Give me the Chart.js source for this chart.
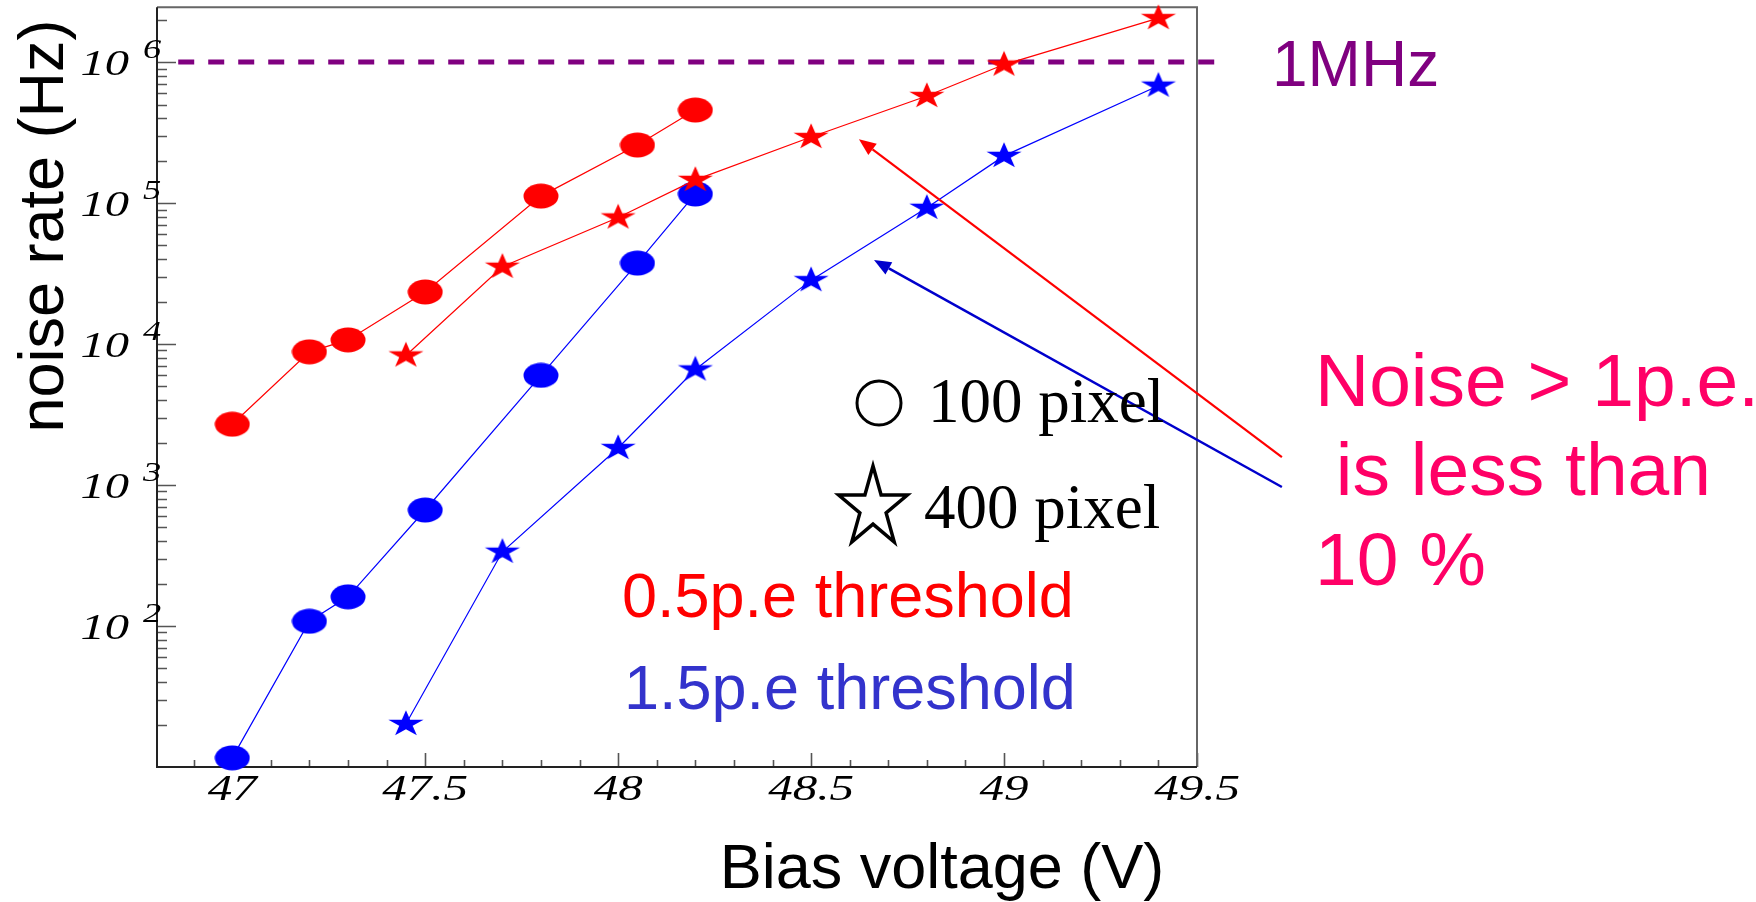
<!DOCTYPE html>
<html>
<head>
<meta charset="utf-8">
<script src="https://cdn.jsdelivr.net/npm/chart.js@4/dist/chart.umd.min.js"></script>
<style>
  html, body { margin: 0; padding: 0; background: #fff; }
</style>
</head>
<body>
<canvas id="noiseChart" width="1756" height="902"></canvas>
<script>
// bias voltage (V) and noise rate (Hz)
const bias100 = [47.0, 47.2, 47.3, 47.5, 47.8, 48.05, 48.2];
const rate100Half = [2700, 8800, 10700, 23400, 112000, 258000, 457000];   // 0.5 p.e. threshold
const rate100OneHalf = [11.6, 108, 161, 665, 6000, 37500, 116000];       // 1.5 p.e. threshold

const bias400 = [47.45, 47.7, 48.0, 48.2, 48.5, 48.8, 49.0, 49.4];
const rate400Half = [8300, 35300, 79000, 146000, 294000, 574000, 960000, 2050000];
const rate400OneHalf = [20.2, 336, 1830, 6600, 28400, 92500, 216000, 680000];

// 1 MHz reference line
const limitBias = [46.86, 49.58];
const limitRate = [1e6, 1e6];

// arrows: [tail, tip] in (V, Hz)
const arrowRed = [[49.72, 1580], [48.624, 284000]];
const arrowBlue = [[49.72, 968], [48.663, 39400]];

const xTickValues = [47, 47.5, 48, 48.5, 49, 49.5];
const xTickLabels = ['47', '47.5', '48', '48.5', '49', '49.5'];
const yDecades = [2, 3, 4, 5, 6];

const RED = '#ff0000';
const BLUE = '#0000ff';

function pts(xs, ys) {
  return xs.map((x, i) => ({ x: x, y: ys[i] }));
}

// filled ellipse marker
function makeDot(color) {
  const c = document.createElement('canvas');
  c.width = 36; c.height = 26;
  const g = c.getContext('2d');
  g.fillStyle = color;
  g.beginPath();
  g.ellipse(18, 13, 17.5, 12.5, 0, 0, Math.PI * 2);
  g.fill();
  return c;
}

function starPath(g, cx, cy, R, sx) {
  const r = R * 0.382;
  g.beginPath();
  for (let i = 0; i < 10; i++) {
    const rad = i % 2 === 0 ? R : r;
    const a = -Math.PI / 2 + i * Math.PI / 5;
    const px = cx + Math.cos(a) * rad * sx;
    const py = cy + Math.sin(a) * rad;
    if (i === 0) g.moveTo(px, py); else g.lineTo(px, py);
  }
  g.closePath();
}

// filled star marker, a bit wider than tall
function makeStar(color) {
  const c = document.createElement('canvas');
  c.width = 38; c.height = 30;
  const g = c.getContext('2d');
  g.fillStyle = color;
  starPath(g, 19, 15, 13.8, 1.34);
  g.fill();
  return c;
}

function stretchText(ctx, text, x, y, align, sx) {
  ctx.save();
  ctx.translate(x, y);
  ctx.scale(sx, 1);
  ctx.textAlign = align;
  ctx.fillText(text, 0, 0);
  ctx.restore();
}

const rootFrame = {
  id: 'rootFrame',
  beforeDatasetsDraw(chart) {
    const { ctx, chartArea: a, scales: { x, y } } = chart;
    ctx.save();
    // ticks pointing into the frame
    ctx.strokeStyle = '#555';
    ctx.lineWidth = 1.6;
    ctx.beginPath();
    for (let d = 1; d <= 6; d++) {
      for (let m = 1; m <= 9; m++) {
        const v = m * Math.pow(10, d);
        if (v <= y.min || v > y.max) continue;
        const py = Math.round(y.getPixelForValue(v)) + 0.5;
        const len = m === 1 ? 19 : 10;
        ctx.moveTo(a.left, py);
        ctx.lineTo(a.left + len, py);
      }
    }
    for (let t = 469; t <= 495; t++) {
      const px = Math.round(x.getPixelForValue(t / 10)) + 0.5;
      if (px <= a.left + 1) continue;
      const len = t % 5 === 0 ? 14 : 7;
      ctx.moveTo(px, a.bottom);
      ctx.lineTo(px, a.bottom - len);
    }
    ctx.stroke();

    // frame
    ctx.lineWidth = 2;
    ctx.strokeStyle = '#666';
    ctx.beginPath();
    ctx.moveTo(a.left, a.top);
    ctx.lineTo(a.right, a.top);
    ctx.lineTo(a.right, a.bottom);
    ctx.stroke();
    ctx.strokeStyle = '#222';
    ctx.beginPath();
    ctx.moveTo(a.left, a.top);
    ctx.lineTo(a.left, a.bottom);
    ctx.lineTo(a.right, a.bottom);
    ctx.stroke();

    // tick labels
    ctx.fillStyle = '#000';
    ctx.textBaseline = 'alphabetic';
    xTickValues.forEach((v, i) => {
      ctx.font = 'italic 35px "Liberation Serif"';
      stretchText(ctx, xTickLabels[i], x.getPixelForValue(v), 800, 'center', 1.4);
    });
    yDecades.forEach(e => {
      const py = y.getPixelForValue(Math.pow(10, e));
      ctx.font = 'italic 36px "Liberation Serif"';
      stretchText(ctx, '10', 129, py + 13, 'right', 1.35);
      ctx.font = 'italic 27px "Liberation Serif"';
      stretchText(ctx, String(e), 143, py - 4, 'left', 1.35);
    });
    ctx.restore();
  },
  afterDatasetsDraw(chart) {
    const { ctx, scales: { x, y } } = chart;
    const arrow = (pair, color, width) => {
      const x0 = x.getPixelForValue(pair[0][0]), y0 = y.getPixelForValue(pair[0][1]);
      const x1 = x.getPixelForValue(pair[1][0]), y1 = y.getPixelForValue(pair[1][1]);
      const ang = Math.atan2(y1 - y0, x1 - x0);
      const hl = 17, hw = 7;
      const bx = x1 - Math.cos(ang) * hl, by = y1 - Math.sin(ang) * hl;
      ctx.save();
      ctx.strokeStyle = color;
      ctx.fillStyle = color;
      ctx.lineWidth = width;
      ctx.beginPath();
      ctx.moveTo(x0, y0);
      ctx.lineTo(bx, by);
      ctx.stroke();
      ctx.beginPath();
      ctx.moveTo(x1, y1);
      ctx.lineTo(bx + Math.sin(ang) * hw, by - Math.cos(ang) * hw);
      ctx.lineTo(bx - Math.sin(ang) * hw, by + Math.cos(ang) * hw);
      ctx.closePath();
      ctx.fill();
      ctx.restore();
    };
    arrow(arrowRed, '#ff0000', 2.2);
    arrow(arrowBlue, '#0000cc', 2.5);
  },
  afterDraw(chart) {
    const { ctx } = chart;
    ctx.save();
    ctx.textBaseline = 'alphabetic';
    ctx.textAlign = 'left';

    // axis titles
    ctx.fillStyle = '#000';
    ctx.font = '63px "Liberation Sans"';
    ctx.textAlign = 'center';
    ctx.fillText('Bias voltage (V)', 942, 888);
    ctx.save();
    ctx.translate(63, 226);
    ctx.rotate(-Math.PI / 2);
    ctx.fillText('noise rate (Hz)', 0, 0);
    ctx.restore();
    ctx.textAlign = 'left';

    // marker key
    ctx.strokeStyle = '#000';
    ctx.lineWidth = 3;
    ctx.beginPath();
    ctx.arc(879, 403, 22, 0, Math.PI * 2);
    ctx.stroke();
    ctx.lineWidth = 3.5;
    ctx.lineJoin = 'miter';
    starPath(ctx, 873, 508, 42, 0.86);
    ctx.stroke();
    ctx.font = '63px "Liberation Serif"';
    ctx.fillText('100 pixel', 928, 422);
    ctx.fillText('400 pixel', 924, 528);

    // threshold labels
    ctx.font = '63px "Liberation Sans"';
    ctx.fillStyle = '#ff0000';
    ctx.fillText('0.5p.e threshold', 622, 617);
    ctx.fillStyle = '#3333cc';
    ctx.fillText('1.5p.e threshold', 624, 709);

    ctx.fillStyle = '#800080';
    ctx.font = '64px "Liberation Sans"';
    ctx.fillText('1MHz', 1272, 86);

    ctx.fillStyle = '#ff0066';
    ctx.font = '75px "Liberation Sans"';
    ctx.fillText('Noise > 1p.e.', 1315, 406);
    ctx.fillText(' is less than', 1315, 495);
    ctx.fillText('10 %', 1315, 585);
    ctx.restore();
  }
};

new Chart(document.getElementById('noiseChart').getContext('2d'), {
  type: 'line',
  data: {
    datasets: [
      { label: '400 pixel 0.5p.e', data: pts(bias400, rate400Half), borderColor: RED, borderWidth: 1.2,
        pointStyle: makeStar(RED), pointRadius: 6, order: 1, clip: false },
      { label: '100 pixel 0.5p.e', data: pts(bias100, rate100Half), borderColor: RED, borderWidth: 1.2,
        pointStyle: makeDot(RED), pointRadius: 6, order: 2, clip: false },
      { label: '400 pixel 1.5p.e', data: pts(bias400, rate400OneHalf), borderColor: BLUE, borderWidth: 1.2,
        pointStyle: makeStar(BLUE), pointRadius: 6, order: 3, clip: false },
      { label: '100 pixel 1.5p.e', data: pts(bias100, rate100OneHalf), borderColor: BLUE, borderWidth: 1.2,
        pointStyle: makeDot(BLUE), pointRadius: 6, order: 4, clip: false },
      { label: '1MHz', data: pts(limitBias, limitRate), borderColor: '#800080', borderWidth: 5,
        borderDash: [16, 14], borderCapStyle: 'butt', pointRadius: 0, order: 10, clip: false }
    ]
  },
  options: {
    responsive: false,
    animation: false,
    layout: { padding: { left: 157, top: 7, right: 559, bottom: 135 } },
    elements: { line: { tension: 0 } },
    plugins: { legend: { display: false }, tooltip: { enabled: false } },
    scales: {
      x: { type: 'linear', min: 46.805, max: 49.5, display: false },
      y: { type: 'logarithmic', min: 10, max: 2.45e6, display: false }
    }
  },
  plugins: [rootFrame]
});
</script>
</body>
</html>
